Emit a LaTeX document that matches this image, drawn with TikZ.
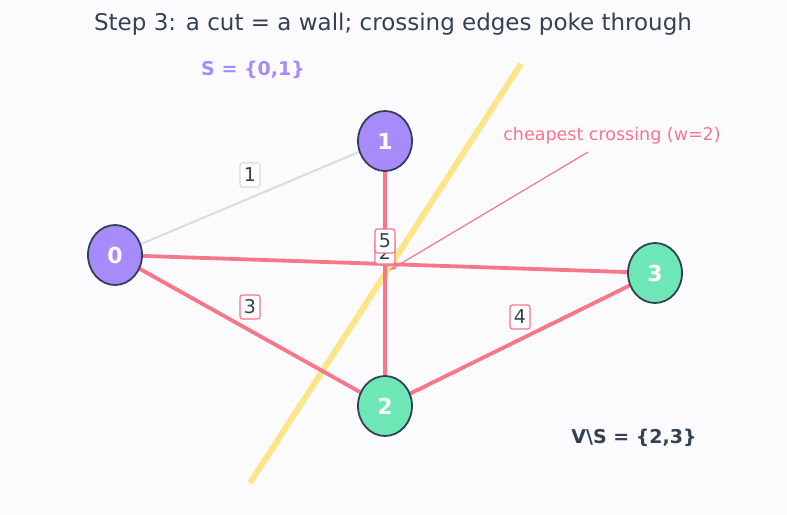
\documentclass[tikz,border=0pt]{standalone}
\usepackage{fontspec}
\setmainfont{DejaVu Sans}
\usetikzlibrary{shapes.geometric,arrows.meta}
\definecolor{bg}{HTML}{FBFBFE}
\definecolor{ink}{HTML}{334155}
\definecolor{vio}{HTML}{A78BFA}
\definecolor{grn}{HTML}{6EE7B7}
\definecolor{rose}{HTML}{F7768A}
\definecolor{wallc}{HTML}{FDE68A}
\definecolor{gedge}{HTML}{DCDCDF}
\tikzset{
  vert/.style={ellipse,draw=ink,line width=1.8pt,minimum width=54pt,minimum height=60pt,inner sep=0pt,text=white,font=\bfseries\fontsize{22}{26}\selectfont},
  cutedge/.style={draw=rose,line width=3.8pt},
  wlab/.style={fill=white,draw=rose,rounded corners=2.5pt,line width=1.2pt,text=ink,font=\fontsize{19}{22}\selectfont,inner sep=2pt,minimum width=20pt,minimum height=24pt},
}
\begin{document}
\begin{tikzpicture}[x=1pt,y=-1pt]
\fill[bg] (0,0) rectangle (787,514);
\useasboundingbox (0,0) rectangle (787,514);
\node[text=ink,font=\fontsize{23}{27}\selectfont] (title) at (393,24) {Step 3: a cut = a wall; crossing edges poke through};
% wall
\coordinate (w1) at (250,483);
\coordinate (w2) at (521,64);
\draw[wallc,line width=6pt] (w1) -- (w2);
% node positions
\coordinate (p0) at (115,255);
\coordinate (p1) at (385,141);
\coordinate (p2) at (385,406);
\coordinate (p3) at (655,273);
% edges
\draw[gedge,line width=2pt] (p0) -- (p1);
\draw[cutedge] (p0) -- (p2);
\draw[cutedge] (p2) -- (p3);
\draw[cutedge] (p1) -- (p2);
\draw[cutedge] (p0) -- (p3);
% nodes
\node[vert,fill=vio] (n0) at (p0) {0};
\node[vert,fill=vio] (n1) at (p1) {1};
\node[vert,fill=grn] (n2) at (p2) {2};
\node[vert,fill=grn] (n3) at (p3) {3};
% weight labels
\node[wlab,draw=gedge] (l01) at (250,175) {1};
\node[wlab] (l02) at (250,307) {3};
\node[wlab] (l23) at (520,317) {4};
\node[wlab] (l12) at (385,252) {2};
\node[wlab] (l03) at (385,241) {5};
% annotation
\node[text=rose,font=\fontsize{17.5}{21}\selectfont] (ann) at (612,136) {cheapest crossing (w=2)};
\coordinate (tip) at (390,270);
\draw[rose,line width=1.2pt,-{Stealth[length=7pt,width=5pt]}] (588,152) -- (tip);
% set labels
\node[text=vio,font=\bfseries\fontsize{19}{22}\selectfont] (sset) at (253,70) {S = \{0,1\}};
\node[text=ink,font=\bfseries\fontsize{19}{22}\selectfont] (vset) at (634,438) {V\textbackslash S = \{2,3\}};
\end{tikzpicture}
\end{document}
